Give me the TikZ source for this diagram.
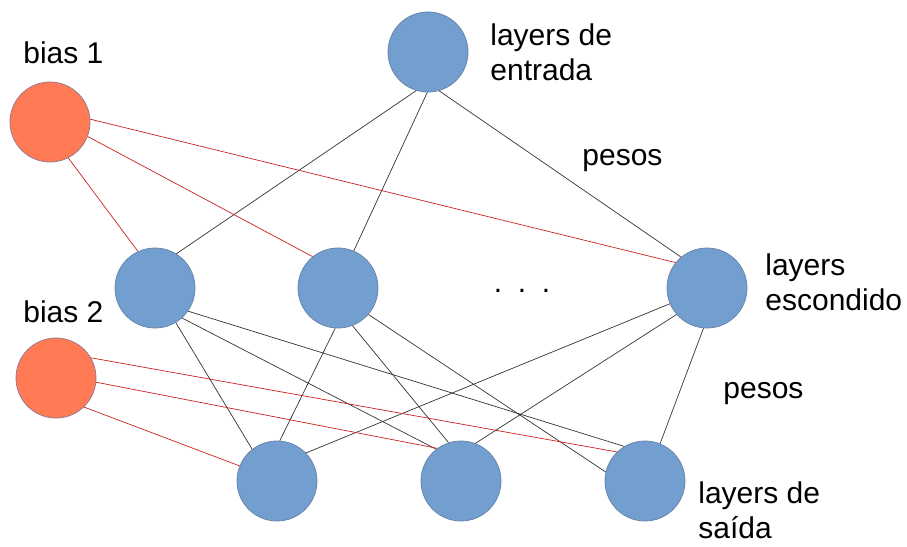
\documentclass[tikz,border=0pt]{standalone}
\usepackage{fontspec}
\setmainfont{Liberation Sans}
\usepackage{tikz}
\usetikzlibrary{positioning}

\definecolor{neuronblue}{HTML}{729FCF}
\definecolor{neuronedge}{HTML}{6A86AD}
\definecolor{biasorange}{HTML}{FF7A55}
\definecolor{biasedge}{HTML}{9A7A8A}
\definecolor{biasline}{HTML}{C9211E}

\tikzset{
	neuron/.style={circle, fill=neuronblue, draw=neuronedge, line width=0.4pt, minimum size=40pt, inner sep=0pt},
	biasnode/.style={circle, fill=biasorange, draw=biasedge, line width=0.4pt, minimum size=40pt, inner sep=0pt},
	peso/.style={draw=black!80, line width=0.35pt},
	pesobias/.style={draw=biasline, line width=0.35pt},
	rotulo/.style={inner sep=0pt, font=\fontsize{15}{17.5}\selectfont, align=left}
}

\begin{document}
\begin{tikzpicture}[x=0.5pt,y=-0.5pt] % a small neural net with two bias units
\useasboundingbox (0,0) rectangle (907,547);

% nodes
\node[neuron] (entrada) at (428,52) {};
\node[biasnode] (bias1) at (50,122) {};
\node[neuron] (h1) at (155,288) {};
\node[neuron] (h2) at (338,288) {};
\node[neuron] (h3) at (707,288) {};
\node[biasnode] (bias2) at (56,378) {};
\node[neuron] (o1) at (277,481) {};
\node[neuron] (o2) at (461,481) {};
\node[neuron] (o3) at (645,481) {};

% weights: from/out angle/to/in angle
\foreach \a/\p/\b/\q in {entrada/-107/h1/58, entrada/-91/h2/67, entrada/-74/h3/130,
		h1/-59/o1/128, h1/-48/o2/128, h1/-35/o3/121,
		h2/-94/o1/86, h2/-69/o2/108, h2/-41/o3/167,
		h3/-157/o1/44, h3/-139/o2/69, h3/-95/o3/68}
	\draw[peso] (\a.\p) -- (\b.\q);

% bias weights
\foreach \a/\p/\b/\q in {bias1/-63/h1/115, bias1/-21/h2/129, bias1/4/h3/141,
		bias2/-46/o1/158, bias2/-6/o2/126, bias2/30/o3/134}
	\draw[pesobias] (\a.\p) -- (\b.\q);

% labels
\node[rotulo, anchor=base west] (lbias1) at (23,63) {bias 1};
\node[rotulo, anchor=base west] (lbias2) at (23,322) {bias 2};
\node[rotulo, anchor=north west] (lentrada) at (490,23) {layers de\\entrada};
\node[rotulo, anchor=base west] (lpesos1) at (582,165) {pesos};
\node[rotulo, anchor=north west] (lescondido) at (765,253) {layers\\escondido};
\node[rotulo, anchor=base west] (lpesos2) at (723,398) {pesos};
\node[rotulo, anchor=north west] (lsaida) at (698,481) {layers de\\saída};
\node[rotulo, anchor=base] (dots) at (522,292) {.\hspace{7.8pt}.\hspace{7.8pt}.};

\end{tikzpicture}
\end{document}
